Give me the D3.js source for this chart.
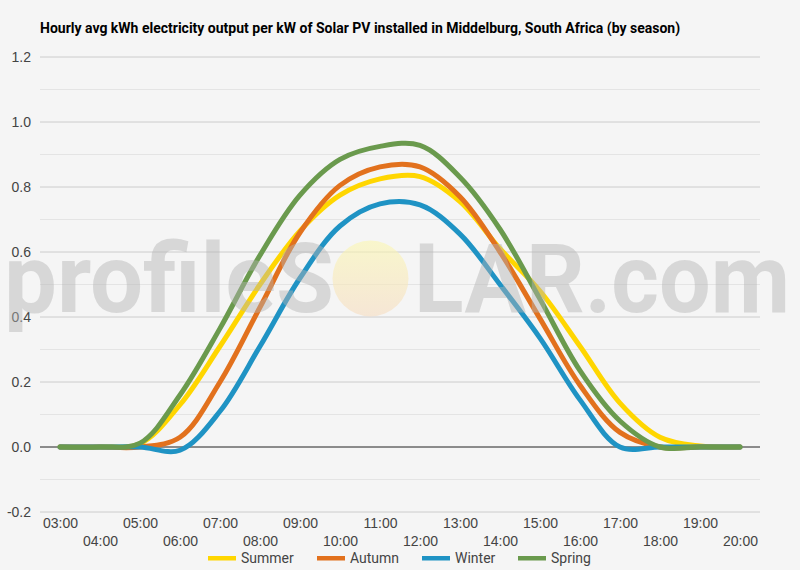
<!DOCTYPE html>
<html>
<head>
<meta charset="utf-8">
<script src="https://cdn.jsdelivr.net/npm/d3@7"></script>
<style>
  body { margin: 0; background: #f5f5f5; }
  svg { display: block; font-family: Roboto, "Noto Sans", sans-serif; }
</style>
</head>
<body>
<div id="chart"></div>
<script>
// hours on the x axis
const hours = ["03:00", "04:00", "05:00", "06:00", "07:00", "08:00", "09:00", "10:00", "11:00",
    "12:00", "13:00", "14:00", "15:00", "16:00", "17:00", "18:00", "19:00", "20:00"];

// kWh per kW
const summer = [0, 0, 0.01, 0.13, 0.31, 0.5, 0.665, 0.775, 0.825, 0.832, 0.755, 0.61, 0.48, 0.31, 0.135, 0.03, 0.003, 0];
const autumn = [0, 0, 0, 0.03, 0.2, 0.43, 0.66, 0.805, 0.862, 0.862, 0.77, 0.6, 0.395, 0.19, 0.045, 0, 0, 0];
const winter = [0, 0, 0, -0.01, 0.11, 0.31, 0.52, 0.68, 0.748, 0.745, 0.655, 0.5, 0.335, 0.145, 0, 0, 0, 0];
const spring = [0, 0, 0.012, 0.16, 0.365, 0.59, 0.775, 0.885, 0.925, 0.928, 0.83, 0.67, 0.455, 0.235, 0.08, 0, 0, 0];

const seasonNames = ["Summer", "Autumn", "Winter", "Spring"];
const seasonColors = ["#ffd600", "#e2711d", "#1f93c4", "#6a9a4d"];
const yTicks = [-0.2, 0, 0.2, 0.4, 0.6, 0.8, 1.0, 1.2];
const yMinor = [-0.1, 0.1, 0.3, 0.5, 0.7, 0.9, 1.1];

const width = 800, height = 570;
const plotLeft = 40, plotRight = 760, plotTop = 57, plotBottom = 512;

const series = seasonNames.map((name, i) => ({
    name: name,
    color: seasonColors[i],
    values: [summer, autumn, winter, spring][i]
}));

const svg = d3.select("#chart").append("svg")
    .attr("width", width)
    .attr("height", height);

svg.append("rect").attr("width", width).attr("height", height).attr("fill", "#f5f5f5");

// scales
const x = d3.scalePoint().domain(hours).range([plotLeft, plotRight]).padding(0.5);
const y = d3.scaleLinear().domain([-0.2, 1.2]).range([plotBottom, plotTop]);

// title
svg.append("text")
    .attr("x", 40)
    .attr("y", 33)
    .style("font-size", "14px")
    .style("font-weight", "bold")
    .attr("fill", "#000")
    .text("Hourly avg kWh electricity output per kW of Solar PV installed in Middelburg, South Africa (by season)");

// gridlines
svg.append("g").selectAll("line")
    .data(yMinor)
    .join("line")
    .attr("x1", plotLeft).attr("x2", plotRight)
    .attr("y1", d => y(d)).attr("y2", d => y(d))
    .attr("stroke", "#e4e4e4");

svg.append("g").selectAll("line")
    .data(yTicks.filter(d => d !== 0))
    .join("line")
    .attr("x1", plotLeft).attr("x2", plotRight)
    .attr("y1", d => y(d)).attr("y2", d => y(d))
    .attr("stroke", "#cccccc");

// y axis labels (plain hyphen for the minus sign)
const fmt = d3.format(".1f");
const yAxis = svg.append("g")
    .attr("transform", `translate(${plotLeft},0)`)
    .call(d3.axisLeft(y).tickValues(yTicks).tickFormat(d => fmt(d).replace("\u2212", "-")).tickSize(0).tickPadding(9));
yAxis.select(".domain").remove();
yAxis.selectAll("text").style("font-size", "14px").attr("fill", "#444");

// x axis labels, staggered in two rows
const xAxis = svg.append("g")
    .attr("transform", `translate(0,${plotBottom})`)
    .call(d3.axisBottom(x).tickSize(0).tickPadding(0));
xAxis.select(".domain").remove();
xAxis.selectAll("text")
    .style("font-size", "14px")
    .attr("fill", "#444")
    .attr("dy", null)
    .attr("y", (d, i) => i % 2 === 0 ? 16 : 34);

// zero line
svg.append("line")
    .attr("x1", plotLeft).attr("x2", plotRight)
    .attr("y1", y(0)).attr("y2", y(0))
    .attr("stroke", "#222");

// lines
const line = d3.line()
    .x((d, i) => x(hours[i]))
    .y(d => y(d))
    .curve(d3.curveCatmullRom.alpha(0.5));

svg.append("g").selectAll("path")
    .data(series)
    .join("path")
    .attr("d", d => line(d.values))
    .attr("fill", "none")
    .attr("stroke", d => d.color)
    .attr("stroke-width", 5)
    .attr("stroke-linejoin", "round")
    .attr("stroke-linecap", "round");

// legend
const legendX = [208, 317, 422, 518];
const legend = svg.append("g").selectAll("g")
    .data(series)
    .join("g")
    .attr("transform", (d, i) => `translate(${legendX[i]},558)`);
legend.append("rect")
    .attr("x", 0).attr("y", -2)
    .attr("width", 28).attr("height", 4.5)
    .attr("fill", d => d.color);
legend.append("text")
    .attr("x", 33)
    .attr("dy", "0.35em")
    .style("font-size", "14px")
    .attr("fill", "#444")
    .text(d => d.name);

// watermark overlay
const defs = svg.append("defs");
const grad = defs.append("linearGradient")
    .attr("id", "sun")
    .attr("x1", 0).attr("y1", 0).attr("x2", 0).attr("y2", 1);
grad.append("stop").attr("offset", "0%").attr("stop-color", "#fbf7b0");
grad.append("stop").attr("offset", "100%").attr("stop-color", "#f6dcc0");

const wm = svg.append("g").style("pointer-events", "none");
wm.append("text")
    .attr("x", 4).attr("y", 312)
    .attr("textLength", 330).attr("lengthAdjust", "spacingAndGlyphs")
    .style("font-size", "97px").style("font-weight", "bold")
    .attr("fill", "#b4b4b4").attr("fill-opacity", 0.45)
    .text("profileS");
wm.append("circle")
    .attr("cx", 370.5).attr("cy", 278.5).attr("r", 38)
    .attr("fill", "url(#sun)").attr("fill-opacity", 0.6);
wm.append("text")
    .attr("x", 414).attr("y", 312)
    .attr("textLength", 376).attr("lengthAdjust", "spacingAndGlyphs")
    .style("font-size", "97px").style("font-weight", "bold")
    .attr("fill", "#b4b4b4").attr("fill-opacity", 0.45)
    .text("LAR.com");
</script>
</body>
</html>
